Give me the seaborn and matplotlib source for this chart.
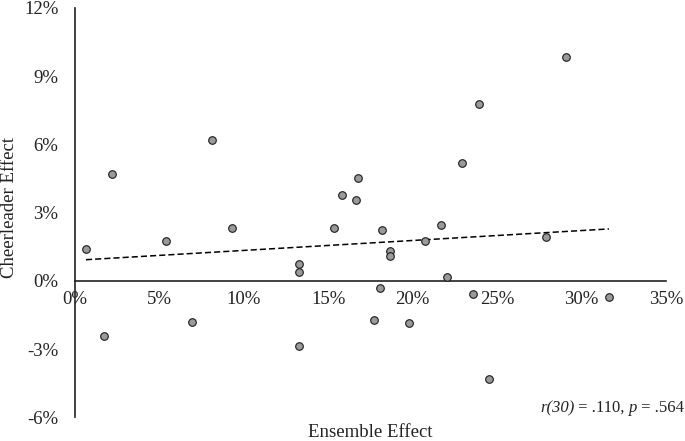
import numpy as np
import pandas as pd
import matplotlib
matplotlib.use("Agg")
import matplotlib.pyplot as plt
import seaborn as sns
from matplotlib.ticker import FuncFormatter
from matplotlib.offsetbox import TextArea, HPacker, AnchoredOffsetbox

# Data (percent)
ensemble = [0.65, 1.74, 2.21, 5.37, 6.95, 8.09, 9.30, 13.26, 13.26, 13.28,
            15.33, 15.79, 16.62, 16.74, 17.70, 18.06, 18.18, 18.65, 18.65, 19.76,
            20.70, 21.65, 22.00, 22.89, 23.56, 23.92, 24.49, 27.87, 29.09, 31.62]
cheer = [1.42, -2.43, 4.69, 1.74, -1.79, 6.20, 2.33, 0.73, 0.41, -2.87,
         2.32, 3.77, 3.56, 4.53, -1.71, -0.32, 2.24, 1.33, 1.10, -1.85,
         1.74, 2.48, 0.18, 5.20, -0.57, 7.79, -4.32, 1.93, 9.83, -0.72]
x_ticks = [0, 5, 10, 15, 20, 25, 30, 35]
y_ticks = [-6, -3, 0, 3, 6, 9, 12]
stat_parts = [("r(30)", "italic"), (" = .110, ", "normal"), ("p", "italic"), (" = .564", "normal")]

df = pd.DataFrame({"Ensemble Effect": ensemble, "Cheerleader Effect": cheer})

sns.set_style("white")
plt.rcParams["font.family"] = ["Liberation Serif", "DejaVu Serif"]

fig = plt.figure(figsize=(6.85, 4.41), dpi=100)
ax = fig.add_axes([0.1095, 0.0533, 0.8628, 0.9286])

sns.regplot(data=df, x="Ensemble Effect", y="Cheerleader Effect", ax=ax, ci=None,
            scatter_kws=dict(s=30, color="#9a9a9a", edgecolor="#1a1a1a", linewidths=0.8, alpha=1, zorder=3),
            line_kws=dict(color="black", linestyle=(0, (4, 2)), linewidth=1.1, zorder=2))

ax.set_xlim(0, 35)
ax.set_ylim(-6, 12)
ax.set_xticks(x_ticks)
ax.set_yticks(y_ticks)
ax.xaxis.set_major_formatter(FuncFormatter(lambda v, p: f"{v:.0f}%"))
ax.yaxis.set_major_formatter(FuncFormatter(lambda v, p: f"{v:.0f}%"))
ax.tick_params(axis="both", length=0, labelsize=13.5, colors="#222222")
ax.tick_params(axis="x", pad=7)
ax.tick_params(axis="y", pad=12)

for s in ["top", "right"]:
    ax.spines[s].set_visible(False)
ax.spines["bottom"].set_position(("data", 0))
for s in ["left", "bottom"]:
    ax.spines[s].set_color("#222222")
    ax.spines[s].set_linewidth(1.2)

ax.set_xlabel("")
ax.set_ylabel("")
fig.text(0.541, 0.02, "Ensemble Effect", ha="center", va="center", fontsize=13.5, color="#222222")
fig.text(0.014, 0.53, "Cheerleader Effect", ha="center", va="center", rotation=90, fontsize=13.5, color="#222222")

areas = [TextArea(t, textprops=dict(fontsize=12, style=st, color="#222222")) for t, st in stat_parts]
box = HPacker(children=areas, align="baseline", pad=0, sep=0)
anch = AnchoredOffsetbox(loc="center right", child=box, pad=0, frameon=False,
                         bbox_to_anchor=(0.999, 0.075), bbox_transform=fig.transFigure, borderpad=0)
fig.add_artist(anch)

fig.savefig("out.png", dpi=100)
